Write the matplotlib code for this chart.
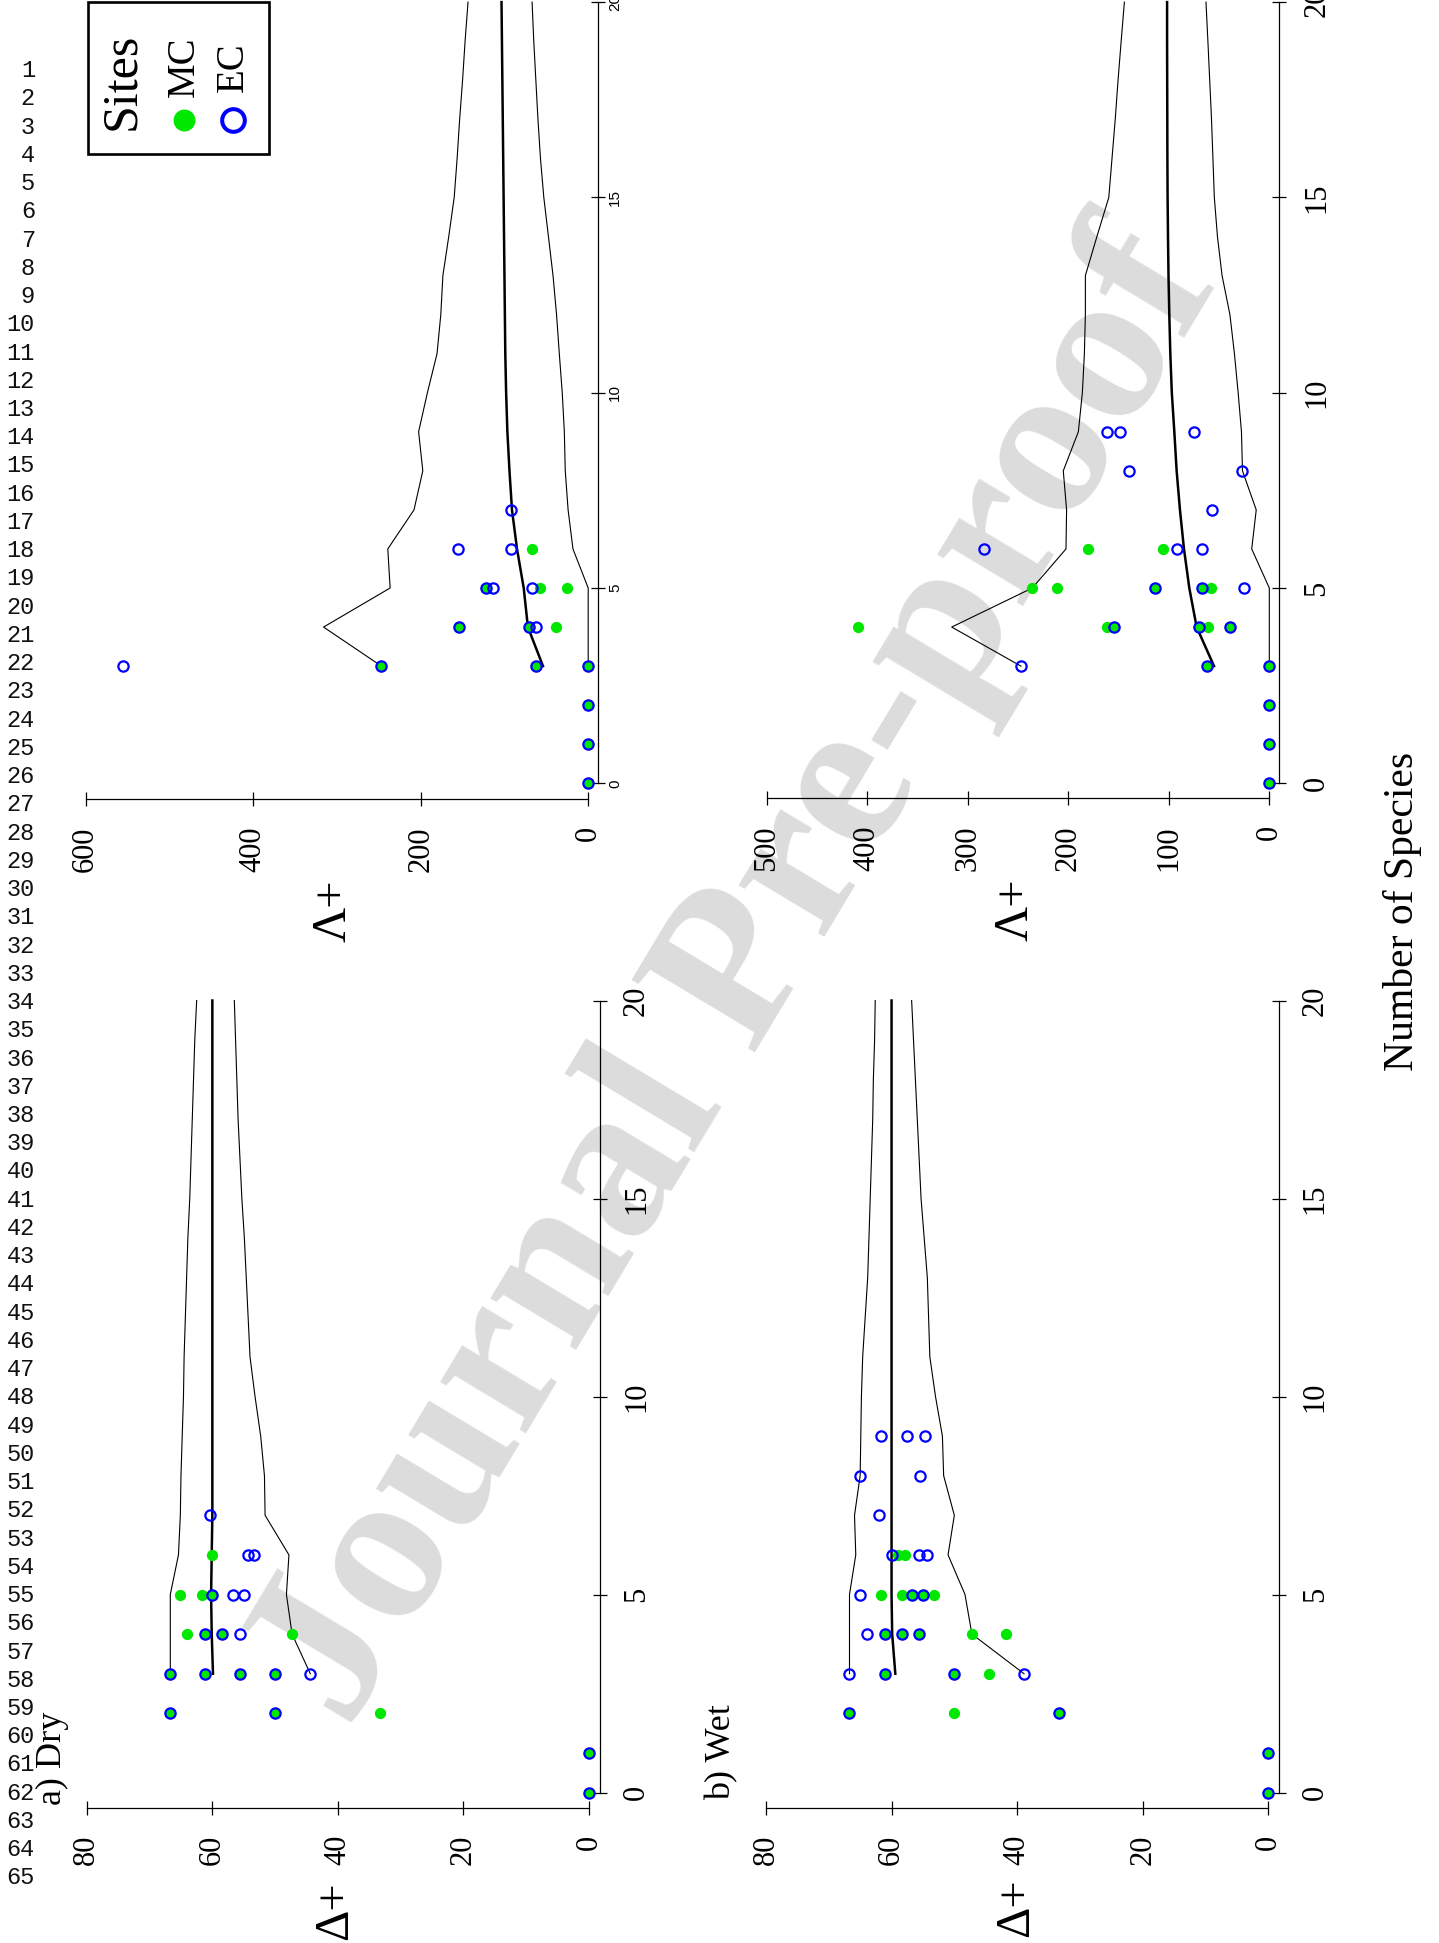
import matplotlib
matplotlib.use("Agg")
import matplotlib.pyplot as plt
from matplotlib.lines import Line2D
from matplotlib.patches import Rectangle

# page size in pixels
W, H = 1439, 1943
GREEN = "#00e800"
BLUE = "#0000ff"

plt.rcParams["font.family"] = ["Liberation Serif", "DejaVu Serif"]

# ---------------- data ----------------
species_ticks = [0, 5, 10, 15, 20]
env_species = [3, 4, 5, 6, 7, 8, 9, 10, 11, 12, 13, 14, 15, 16, 17, 18, 19, 20]

# a) Dry, Delta+
dry_delta_mc_sp = [0, 1, 2, 2, 2, 3, 3, 3, 3, 4, 4, 4, 4, 5, 5, 5, 6]
dry_delta_mc = [0, 0, 66.7, 50.0, 33.3, 66.7, 61.1, 55.6, 50.0, 64.0, 61.1, 58.4, 47.3,
                65.1, 61.7, 60.0, 60.0]
dry_delta_ec_sp = [0, 1, 2, 2, 3, 3, 3, 3, 3, 4, 4, 4, 5, 5, 5, 6, 6, 7]
dry_delta_ec = [0, 0, 66.7, 50.0, 66.7, 61.1, 55.6, 50.0, 44.4, 61.1, 58.4, 55.6,
                60.0, 56.7, 55.0, 54.4, 53.3, 60.3]
dry_delta_upper = [66.7, 66.7, 66.7, 65.4, 65.1, 65.0, 64.8, 64.6, 64.5, 64.3, 64.1,
                   63.9, 63.6, 63.4, 63.2, 63.0, 62.8, 62.5]
dry_delta_mean = [59.9, 60.1, 60.2, 60.1, 60.0, 60.0, 60.0, 60.0, 60.0, 60.0, 60.0,
                  60.0, 60.0, 60.0, 60.0, 60.0, 60.0, 60.0]
dry_delta_lower = [44.4, 47.3, 48.2, 47.8, 51.6, 51.7, 52.3, 53.2, 54.0, 54.3, 54.6,
                   54.9, 55.3, 55.6, 55.9, 56.1, 56.3, 56.5]

# b) Wet, Delta+
wet_delta_mc_sp = [0, 1, 2, 2, 2, 3, 3, 3, 4, 4, 4, 4, 4, 5, 5, 5, 5, 5, 6, 6]
wet_delta_mc = [0, 0, 66.7, 50.0, 33.3, 61.1, 50.0, 44.4, 61.1, 58.3, 55.6, 47.2, 41.7,
                61.7, 58.3, 56.7, 55.0, 53.3, 58.9, 57.8]
wet_delta_ec_sp = [0, 1, 2, 2, 3, 3, 3, 3, 4, 4, 4, 4, 5, 5, 5, 6, 6, 6, 7, 8, 8, 9, 9, 9]
wet_delta_ec = [0, 0, 66.7, 33.3, 66.7, 61.1, 50.0, 38.9, 63.9, 61.1, 58.3, 55.6,
                65.0, 56.7, 55.0, 60.0, 55.6, 54.4, 62.0, 65.0, 55.4, 61.7, 57.5, 54.6]
wet_delta_upper = [66.7, 66.7, 66.7, 65.7, 65.9, 65.0, 64.9, 64.8, 64.6, 64.2, 63.8,
                   63.6, 63.4, 63.2, 63.0, 62.9, 62.7, 62.6]
wet_delta_mean = [59.4, 59.9, 60.0, 60.0, 60.0, 60.0, 60.0, 60.0, 60.0, 60.0, 60.0,
                  60.0, 60.0, 60.0, 60.0, 60.0, 60.0, 60.0]
wet_delta_lower = [38.9, 47.2, 48.3, 51.0, 50.0, 51.7, 51.9, 53.0, 53.9, 54.1, 54.3,
                   54.8, 55.3, 55.6, 55.9, 56.2, 56.5, 56.8]

# Dry, Lambda+
dry_lambda_mc_sp = [0, 1, 2, 3, 3, 3, 4, 4, 4, 5, 5, 5, 6]
dry_lambda_mc = [0, 0, 0, 246.9, 61.8, 0, 154.4, 70.8, 38.8, 122.4, 58.0, 25.2, 66.9]
dry_lambda_ec_sp = [0, 1, 2, 3, 3, 3, 3, 4, 4, 4, 5, 5, 5, 6, 6, 7]
dry_lambda_ec = [0, 0, 0, 555.6, 246.9, 61.8, 0, 154.4, 70.8, 62.3, 122.4, 113.4, 66.9,
                 155.2, 91.7, 92.1]
dry_lambda_upper = [246.9, 316.0, 236.5, 239.3, 208.0, 197.5, 202.5, 192.0, 180.5, 176.0,
                    173.5, 166.5, 160.0, 156.5, 153.5, 150.0, 147.0, 143.5]
dry_lambda_mean = [54.0, 72.0, 77.0, 85.0, 91.0, 94.0, 96.5, 98.0, 99.0, 99.5, 100.0,
                   100.5, 101.0, 101.5, 102.0, 102.5, 103.0, 103.5]
dry_lambda_lower = [0, 0, 0, 18.2, 24.0, 27.4, 28.5, 31.0, 34.5, 37.8, 42.0, 47.5, 53.0,
                    57.0, 60.0, 62.5, 65.0, 67.0]

# Wet, Lambda+
wet_lambda_mc_sp = [0, 1, 2, 3, 3, 4, 4, 4, 4, 4, 4, 5, 5, 5, 5, 5, 6, 6]
wet_lambda_mc = [0, 0, 0, 62.0, 0, 409.0, 161.9, 154.2, 69.7, 61.4, 38.8, 235.8, 211.3,
                 113.8, 67.0, 57.7, 180.4, 106.1]
wet_lambda_ec_sp = [0, 1, 2, 3, 3, 3, 4, 4, 4, 5, 5, 5, 6, 6, 6, 7, 8, 8, 9, 9, 9]
wet_lambda_ec = [0, 0, 0, 247.1, 62.0, 0, 154.2, 69.7, 38.8, 113.8, 67.0, 25.2, 283.9,
                 91.5, 67.0, 56.7, 140.0, 26.9, 161.5, 148.6, 74.6]
wet_lambda_upper = [247.1, 316.0, 235.8, 202.3, 201.7, 205.0, 190.0, 186.0, 184.0, 183.0,
                    183.0, 171.5, 159.7, 156.5, 153.3, 150.5, 147.4, 144.2]
wet_lambda_mean = [55.0, 72.3, 79.6, 84.9, 88.9, 92.2, 94.5, 97.0, 98.5, 99.5, 100.3,
                   100.8, 101.2, 101.4, 101.5, 101.6, 101.7, 101.7]
wet_lambda_lower = [0, 0, 0, 17.5, 13.0, 26.7, 27.7, 31.0, 34.7, 39.2, 47.0, 51.6, 54.7,
                    56.1, 57.5, 59.3, 61.1, 63.0]

delta_ticks = [0, 20, 40, 60, 80]
dry_lambda_ticks = [0, 200, 400, 600]
wet_lambda_ticks = [0, 100, 200, 300, 400, 500]


def fx(px):
    return px / W


def fy(py):
    return 1 - py / H


def make_axes(fig, xcal, ycal, xlim, ylim, xline_px, yline_px):
    # xcal / ycal: (value0, pixel0, value1, pixel1)
    xv0, xp0, xv1, xp1 = xcal
    yv0, yp0, yv1, yp1 = ycal
    sx = (xp1 - xp0) / (xv1 - xv0)
    sy = (yp1 - yp0) / (yv1 - yv0)
    left = xp0 + (xlim[0] - xv0) * sx
    right = xp0 + (xlim[1] - xv0) * sx
    bottom = yp0 + (ylim[0] - yv0) * sy
    top = yp0 + (ylim[1] - yv0) * sy
    ax = fig.add_axes([fx(left), fy(bottom), (right - left) / W, (bottom - top) / H])
    ax.set_xlim(xlim)
    ax.set_ylim(ylim)
    ax.set_facecolor("none")
    # where the two axis lines sit, in data units
    ax.spines["bottom"].set_position(("data", yv0 + (xline_px - yp0) / sy))
    ax.spines["right"].set_position(("data", xv0 + (yline_px - xp0) / sx))
    return ax


def draw_panel(ax, mc_sp, mc, ec_sp, ec, upper, mean, lower, vticks, small_sp=False,
               sp_pad=10.8):
    ax.plot(upper, env_species, color="black", lw=0.8, zorder=2)
    ax.plot(lower, env_species, color="black", lw=0.8, zorder=2)
    ax.plot(mean, env_species, color="black", lw=1.8, zorder=2)
    ax.plot(mc, mc_sp, ls="none", marker="o", ms=8.1, mfc=GREEN, mec="none",
            zorder=3, clip_on=False)
    ax.plot(ec, ec_sp, ls="none", marker="o", ms=7.4, mfc="none", mec=BLUE, mew=1.6,
            zorder=4, clip_on=False)

    for s in ["top", "left"]:
        ax.spines[s].set_visible(False)
    ax.spines["bottom"].set_bounds(vticks[0], vticks[-1])
    ax.spines["right"].set_bounds(0, 20)
    for s in ["bottom", "right"]:
        ax.spines[s].set_linewidth(0.9)

    ax.xaxis.tick_bottom()
    ax.yaxis.tick_right()
    ax.set_xticks(vticks)
    ax.set_yticks(species_ticks)
    ax.tick_params(axis="x", direction="inout", length=10, width=0.9, pad=14.4,
                   labelsize=22, labelrotation=90)
    if small_sp:
        ax.tick_params(axis="y", direction="inout", length=10, width=0.9, pad=sp_pad,
                       labelsize=11, labelrotation=90)
        plt.setp(ax.get_yticklabels(), family="Liberation Sans")
    else:
        ax.tick_params(axis="y", direction="inout", length=10, width=0.9, pad=sp_pad,
                       labelsize=22, labelrotation=90)
    plt.setp(ax.get_yticklabels(), va="center", ha="left")
    plt.setp(ax.get_xticklabels(), va="top", ha="center")


fig = plt.figure(figsize=(W / 100, H / 100), dpi=100)

# watermark, behind everything
fig.text(fx(738), fy(978), "Journal Pre-proof", rotation=59, ha="center", va="center",
         fontsize=158, fontweight="bold", color="#dcdcdc", zorder=-5)

# manuscript line numbers
for n in range(1, 66):
    fig.text(fx(35), fy(70.6 + (n - 1) * 28.24), str(n), ha="right", va="center",
             fontsize=17, family="Liberation Mono", color="#111111")

# a) Dry, Delta+
ax_a = make_axes(fig, (0, 589.0, 80, 86.8), (0, 1792.5, 20, 1000.5),
                 (86, -6), (-1.3, 20.8), 1808, 600)
draw_panel(ax_a, dry_delta_mc_sp, dry_delta_mc, dry_delta_ec_sp, dry_delta_ec,
           dry_delta_upper, dry_delta_mean, dry_delta_lower, delta_ticks)

# b) Wet, Delta+
ax_b = make_axes(fig, (0, 1268.2, 80, 766.0), (0, 1792.5, 20, 1000.5),
                 (86, -6), (-1.3, 20.8), 1808, 1278.7)
draw_panel(ax_b, wet_delta_mc_sp, wet_delta_mc, wet_delta_ec_sp, wet_delta_ec,
           wet_delta_upper, wet_delta_mean, wet_delta_lower, delta_ticks)

# Dry, Lambda+
ax_c = make_axes(fig, (0, 588.2, 600, 85.7), (0, 783.3, 5, 588.0),
                 (640, -40), (-1.3, 21.0), 799.3, 598.2)
draw_panel(ax_c, dry_lambda_mc_sp, dry_lambda_mc, dry_lambda_ec_sp, dry_lambda_ec,
           dry_lambda_upper, dry_lambda_mean, dry_lambda_lower, dry_lambda_ticks,
           small_sp=True, sp_pad=2.2)

# Wet, Lambda+
ax_d = make_axes(fig, (0, 1269.3, 500, 766.8), (0, 783.3, 5, 588.0),
                 (530, -30), (-1.3, 21.0), 798.3, 1279.3)
draw_panel(ax_d, wet_lambda_mc_sp, wet_lambda_mc, wet_lambda_ec_sp, wet_lambda_ec,
           wet_lambda_upper, wet_lambda_mean, wet_lambda_lower, wet_lambda_ticks,
           sp_pad=11.6)

# axis titles and panel letters
fig.text(fx(52), fy(1758), "a) Dry", rotation=90, ha="center", va="center", fontsize=26)
fig.text(fx(722), fy(1752), "b) Wet", rotation=90, ha="center", va="center", fontsize=26)
fig.text(fx(335), fy(1911), "Δ+", rotation=90, ha="center", va="center", fontsize=35)
fig.text(fx(1016), fy(1908), "Δ+", rotation=90, ha="center", va="center", fontsize=35)
fig.text(fx(333), fy(911), "Λ+", rotation=90, ha="center", va="center", fontsize=35)
fig.text(fx(1015), fy(910), "Λ+", rotation=90, ha="center", va="center", fontsize=35)
fig.text(fx(1403), fy(911), "Number of Species", rotation=90, ha="center", va="center",
         fontsize=30)

# legend box (Sites)
fig.add_artist(Rectangle((fx(88), fy(154)), (269 - 88) / W, (154 - 1.7) / H,
                         transform=fig.transFigure, fill=False, ec="black", lw=1.9))
fig.text(fx(122), fy(81), "Sites", rotation=90, ha="center", va="center", fontsize=36)
fig.text(fx(184), fy(67), "MC", rotation=90, ha="center", va="center", fontsize=28)
fig.text(fx(233), fy(67), "EC", rotation=90, ha="center", va="center", fontsize=28)
fig.add_artist(Line2D([fx(184)], [fy(120)], transform=fig.transFigure, ls="none",
                      marker="o", ms=15.8, mfc=GREEN, mec="none"))
fig.add_artist(Line2D([fx(233)], [fy(120)], transform=fig.transFigure, ls="none",
                      marker="o", ms=16.3, mfc="none", mec=BLUE, mew=2.9))

fig.savefig("out.png", dpi=100)
